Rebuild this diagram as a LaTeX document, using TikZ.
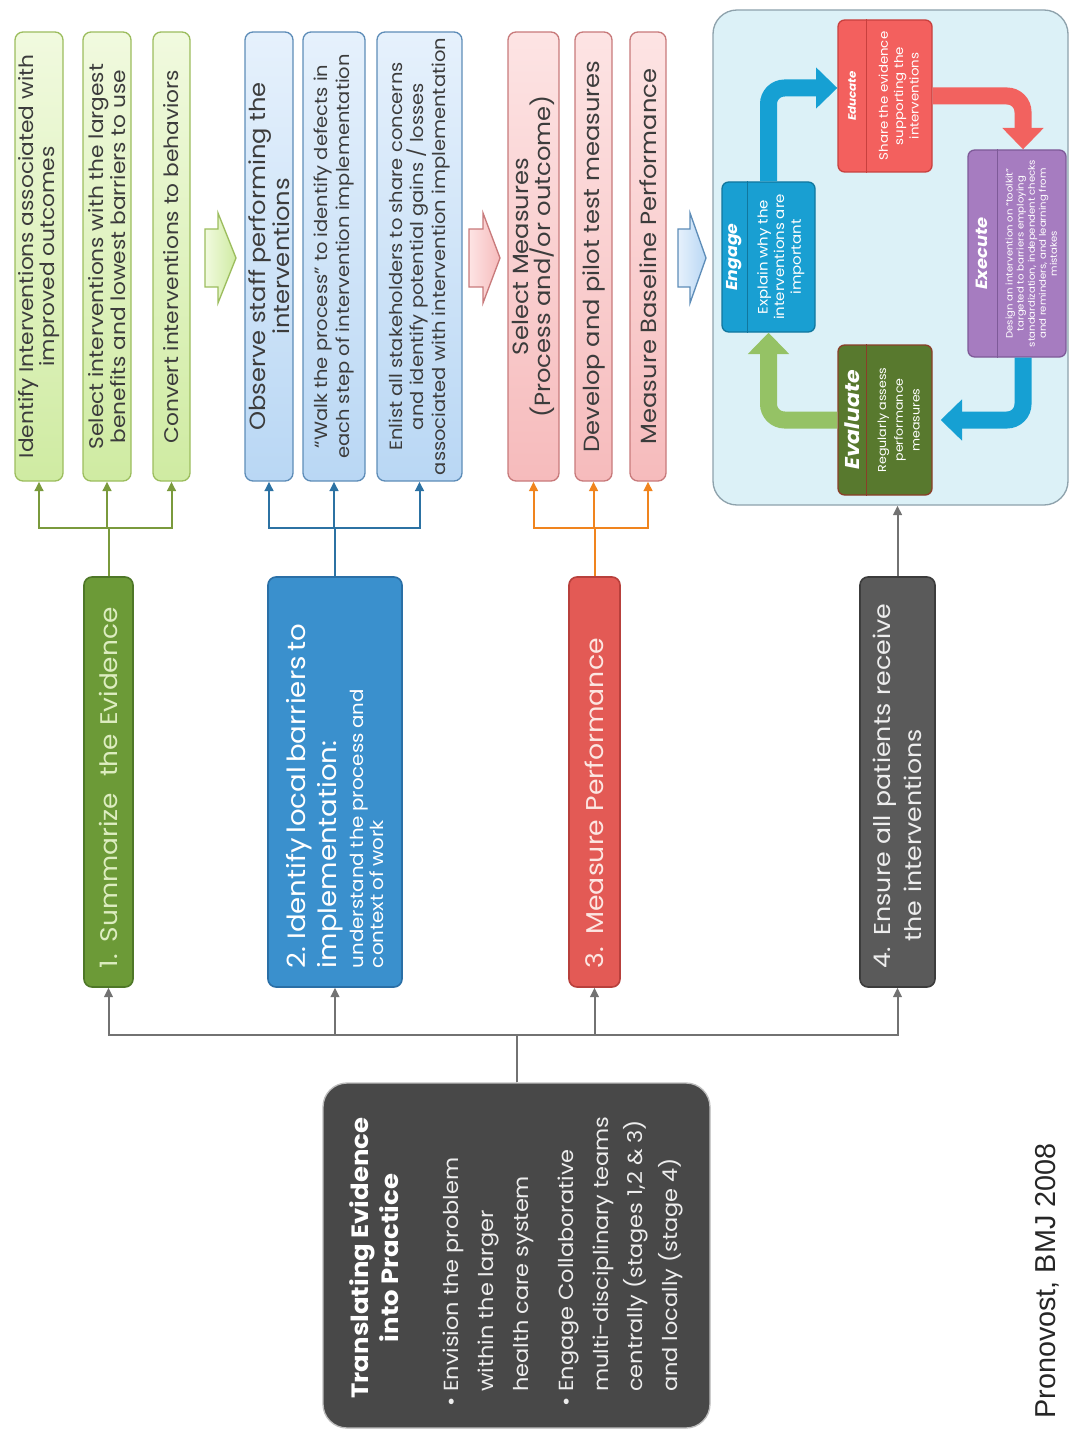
\documentclass[tikz,border=0pt]{standalone}
\usepackage{fontspec}
\setmainfont{Poppins}[FakeStretch=1.1]
\newfontfamily\citefont{Liberation Sans}
\usetikzlibrary{arrows.meta}

% palette
\definecolor{gfillA}{HTML}{F1FADF}
\definecolor{gfillB}{HTML}{CFEBA2}
\definecolor{gline}{HTML}{9CBD5E}
\definecolor{gconn}{HTML}{7A9A3C}
\definecolor{bfillA}{HTML}{E6F1FC}
\definecolor{bfillB}{HTML}{B9D7F4}
\definecolor{bline}{HTML}{5E8DB8}
\definecolor{bconn}{HTML}{2C72A3}
\definecolor{rfillA}{HTML}{FDE4E4}
\definecolor{rfillB}{HTML}{F6BBBC}
\definecolor{rline}{HTML}{C87A7B}
\definecolor{rconn}{HTML}{F0841E}
\definecolor{txt}{HTML}{3C3C3C}
\definecolor{stepg}{HTML}{6C9A37}
\definecolor{stepgl}{HTML}{4E7727}
\definecolor{stepgt}{HTML}{DDEDC0}
\definecolor{stepb}{HTML}{3A90CD}
\definecolor{stepbl}{HTML}{2A6FA6}
\definecolor{stepr}{HTML}{E35A55}
\definecolor{steprl}{HTML}{B8403C}
\definecolor{steprt}{HTML}{FCE6E2}
\definecolor{stepk}{HTML}{5A5A5A}
\definecolor{stepkl}{HTML}{3C3C3C}
\definecolor{kconn}{HTML}{727272}
\definecolor{panelbg}{HTML}{DCF1F7}
\definecolor{panelln}{HTML}{8EA2AC}
\definecolor{cedu}{HTML}{F3605E}
\definecolor{cedud}{HTML}{C8403E}
\definecolor{cexe}{HTML}{A67CC0}
\definecolor{cexed}{HTML}{7E5A98}
\definecolor{ceng}{HTML}{199FD2}
\definecolor{cengd}{HTML}{11779E}
\definecolor{ceva}{HTML}{58792E}
\definecolor{cevad}{HTML}{8A3E28}
\definecolor{carrb}{HTML}{16A0D3}
\definecolor{carrr}{HTML}{F2625F}
\definecolor{carrg}{HTML}{95C265}
\definecolor{mainbg}{HTML}{484848}
\definecolor{mainln}{HTML}{BDBDBD}
\definecolor{maintx}{HTML}{EDEDED}

\begin{document}
\begin{tikzpicture}[x=0.75pt, y=-0.75pt,
  tip/.style={-{Triangle[length=7pt,width=6.5pt]}},
  conn/.style={line width=1.5pt, tip},
  sub/.style={rotate=90, rounded corners=6pt, line width=1pt, align=center,
    text=txt, inner sep=0pt, minimum width=336.75pt},
  gsub/.style={sub, draw=gline, top color=gfillA, bottom color=gfillB,
    font=\fontsize{14.8}{16.2}\selectfont},
  bsub/.style={sub, draw=bline, top color=bfillA, bottom color=bfillB,
    font=\fontsize{13.3}{16}\selectfont},
  rsub/.style={sub, draw=rline, top color=rfillA, bottom color=rfillB,
    font=\fontsize{16.5}{17}\selectfont},
  stepbox/.style={rotate=90, rounded corners=6pt, line width=1.2pt,
    minimum width=307.5pt, inner sep=0pt, text width=279pt, align=left},
  blockarrow/.style={line width=1pt},
  cbox/.style={rounded corners=5pt, line width=1pt, inner sep=0pt},
  ctitle/.style={rotate=90, text=white, inner sep=0pt, font=\bfseries\itshape},
  cbody/.style={rotate=90, text=white, align=center, inner sep=0pt},
  cyclearrow/.style={line width=12.75pt, rounded corners=12pt,
    -{Triangle[length=16pt,width=30pt]}},
]
\useasboundingbox (0,0) rectangle (1070,1430);

% ---------- detail boxes, stage 1 ----------
\node[gsub, minimum height=36pt] (g1) at (39,256.5)
  {Identify Interventions associated with\\improved outcomes};
\node[gsub, minimum height=36pt] (g2) at (107,256.5)
  {Select interventions with the largest\\benefits and lowest barriers to use};
\node[gsub, minimum height=27.75pt] (g3) at (171.5,256.5)
  {Convert interventions to behaviors};

% ---------- detail boxes, stage 2 ----------
\node[bsub, minimum height=36pt, font=\fontsize{16.5}{16.5}\selectfont] (b1) at (269,256.5)
  {Observe staff performing the\\interventions};
\node[bsub, minimum height=46.5pt] (b2) at (334,256.5)
  {“Walk the process” to identify defects in\\each step of intervention implementation};
\node[bsub, minimum height=63.75pt] (b3) at (419.5,256.5)
  {Enlist all stakeholders to share concerns\\and identify potential gains / losses\\associated with intervention implementation};

% ---------- detail boxes, stage 3 ----------
\node[rsub, minimum height=38.25pt] (r1) at (533.5,256.5)
  {Select Measures\\(Process and/or outcome)};
\node[rsub, minimum height=27.75pt] (r2) at (593.5,256.5)
  {Develop and pilot test measures};
\node[rsub, minimum height=27pt] (r3) at (648,256.5)
  {Measure Baseline Performance};

% ---------- block arrows between the columns ----------
\path[blockarrow, draw=gline, left color=gfillA, right color=gfillB]
  (205,229) -- (218,229) -- (218,213) -- (236,258) -- (218,303) -- (218,287) -- (205,287) -- cycle;
\path[blockarrow, draw=rline, left color=rfillA, right color=rfillB]
  (469,229) -- (483,229) -- (483,213) -- (500,258) -- (483,303) -- (483,287) -- (469,287) -- cycle;
\path[blockarrow, draw=bline, left color=bfillA, right color=bfillB]
  (678,229) -- (690,229) -- (690,213) -- (706,258) -- (690,303) -- (690,287) -- (678,287) -- cycle;

% ---------- cycle panel ----------
\node[draw=panelln, fill=panelbg, rounded corners=18pt, line width=1pt,
  minimum width=266.25pt, minimum height=371.25pt] (cyc) at (890.5,257.5) {};

\node[cbox, fill=cedu, draw=cedud, minimum width=70.5pt, minimum height=114pt] (edu) at (885,96) {};
\node[cbox, fill=ceng, draw=cengd, minimum width=69.75pt, minimum height=112.5pt] (eng) at (768.5,257) {};
\node[cbox, fill=cexe, draw=cexed, minimum width=73.5pt, minimum height=155.25pt] (exe) at (1017,253.5) {};
\node[cbox, fill=ceva, draw=cevad, minimum width=70.5pt, minimum height=112.5pt] (eva) at (885,420) {};

\draw[cedud, line width=0.8pt] ([xshift=21.75pt]edu.north west) -- ([xshift=21.75pt]edu.south west);
\draw[cengd, line width=0.8pt] ([xshift=19.5pt]eng.north west) -- ([xshift=19.5pt]eng.south west);
\draw[cexed, line width=0.8pt] ([xshift=22.5pt]exe.north west) -- ([xshift=22.5pt]exe.south west);
\draw[cevad, line width=0.8pt] ([xshift=21.75pt]eva.north west) -- ([xshift=21.75pt]eva.south west);

\node[ctitle, font=\bfseries\itshape\fontsize{8.1}{9}\selectfont] at ([xshift=10.9pt]edu.west) {Educate};
\node[ctitle, font=\bfseries\itshape\fontsize{11.8}{12}\selectfont] at ([xshift=9.75pt]eng.west) {Engage};
\node[ctitle, font=\bfseries\itshape\fontsize{12.2}{13}\selectfont] at ([xshift=11.25pt]exe.west) {Execute};
\node[ctitle, font=\bfseries\itshape\fontsize{15}{15}\selectfont] at ([xshift=10.9pt]eva.west) {Evaluate};

\node[cbody, font=\fontsize{9.1}{11.5}\selectfont] at ([xshift=46pt]edu.west)
  {Share the evidence\\supporting the\\interventions};
\node[cbody, font=\fontsize{10.2}{12.5}\selectfont] at ([xshift=44.6pt]eng.west)
  {Explain why the\\interventions are\\important};
\node[cbody, font=\fontsize{6.9}{8.3}\selectfont] at ([xshift=48pt]exe.west)
  {Design an intervention on “toolkit”\\targeted to barriers employing\\standardization, independent checks\\and reminders, and learning from\\mistakes};
\node[cbody, font=\fontsize{8.6}{12.5}\selectfont] at ([xshift=46pt]eva.west)
  {Regularly assess\\performance\\measures};

\draw[cyclearrow, carrb] (eng.north) |- ([yshift=6pt]edu.west);
\draw[cyclearrow, carrr] (edu.east) -| ([xshift=4.5pt]exe.north);
\draw[cyclearrow, carrb] ([xshift=4.5pt]exe.south) |- ([xshift=6pt]eva.east);
\draw[cyclearrow, carrg] (eva.west) -| (eng.south);

% ---------- the four stages ----------
\node[stepbox, fill=stepg, draw=stepgl, text=stepgt, minimum height=36.75pt,
  font=\fontsize{18}{22}\selectfont] (s1) at (108.5,782) {1. Summarize\ \ the Evidence};
\node[stepbox, fill=stepb, draw=stepbl, text=white, minimum height=100.5pt] (s2) at (335,782)
  {\fontsize{18.8}{23}\selectfont 2. Identify local barriers to\\implementation:\\
   {\fontsize{13.5}{20}\selectfont understand the process and\\context of work}};
\node[stepbox, fill=stepr, draw=steprl, text=steprt, minimum height=38.25pt,
  font=\fontsize{18.2}{22}\selectfont] (s3) at (594.5,782) {3. Measure Performance};
\node[stepbox, fill=stepk, draw=stepkl, text=maintx, minimum height=56.25pt,
  font=\fontsize{17.2}{23}\selectfont] (s4) at (897.5,782)
  {4. Ensure all patients receive\\\hspace*{20pt}the interventions};

% ---------- stage to detail connectors ----------
\coordinate (bar) at (0,528);
\foreach \t in {g1,g2,g3} \draw[conn, gconn] (s1.east) |- (\t.west |- bar) -- (\t.west);
\foreach \t in {b1,b2,b3} \draw[conn, bconn] (s2.east) |- (\t.west |- bar) -- (\t.west);
\foreach \t in {r1,r2,r3} \draw[conn, rconn] (s3.east) |- (\t.west |- bar) -- (\t.west);
\draw[conn, kconn] (s4.east) -- (s4.east |- cyc.south);

% ---------- overview box ----------
\node[draw=mainln, fill=mainbg, rounded corners=18pt, line width=1pt,
  minimum width=290.25pt, minimum height=258.75pt] (main) at (516.5,1255.5) {};
\node[rotate=90, text=white, align=center, inner sep=0pt,
  font=\bfseries\fontsize{17.7}{22}\selectfont] (mtitle) at (374,1258)
  {Translating Evidence\\into Practice};
\node[rotate=90, text=maintx, align=left, inner sep=0pt, anchor=north west,
  font=\fontsize{15.3}{26}\selectfont] (mlist) at (443,1392)
  {\llap{\textbullet\ }Envision the problem\\within the larger\\health care system\\[8pt]
   \llap{\textbullet\ }Engage Collaborative\\multi-disciplinary teams\\centrally (stages 1,2 \& 3)\\and locally (stage 4)};

\coordinate (hub) at (0,1035);
\foreach \s in {s1,s2,s3,s4} \draw[conn, kconn] (main.north) |- (\s.west |- hub) -- (\s.west);

% ---------- source ----------
\node[rotate=90, text=black!85, inner sep=0pt, font=\citefont\fontsize{21.6}{22}\selectfont] (cite)
  at (1047,1281) {Pronovost, BMJ 2008};
\end{tikzpicture}
\end{document}
